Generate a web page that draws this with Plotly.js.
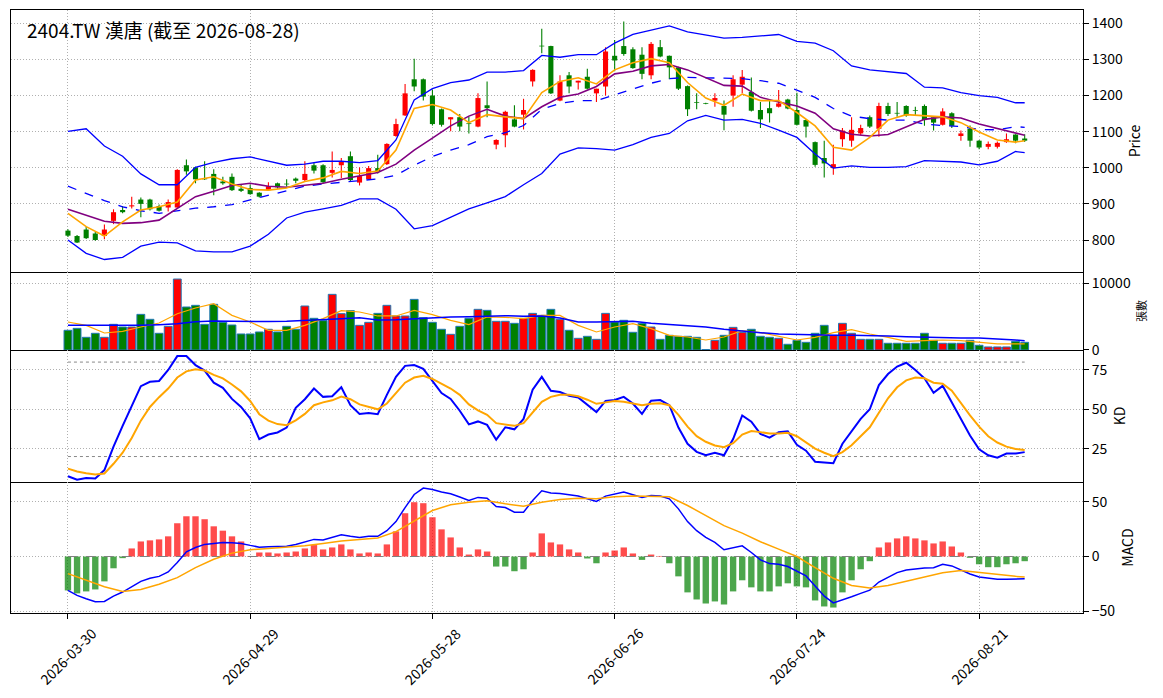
<!DOCTYPE html>
<html>
<head>
<meta charset="utf-8">
<script src="https://cdn.plot.ly/plotly-3.0.1.min.js"></script>
<style>
  body { margin: 0; background: #fff; }
  #chart { width: 1163px; height: 698px; }
</style>
</head>
<body>
<div id="chart"></div>
<script>
// ---- data (index = trading day, 0 = 2026-03-30) ----
const opens = [826,811,829,818,811,853,883,893,912,912, 894,890,890,1007,1001,971,983,962,975,942,
  944,931,938,957,955,970,966,1007,1007,986, 1007,1032,959,968,999,1010,1088,1145,1245,1245,
  1200,1162,1134,1140,1122,1114,1173,1064,1090,1134, 1147,1239,1338,1337,1186,1256,1236,1252,1206,1225,
  1310,1337,1328,1313,1256,1334,1310,1278,1226,1181, 1178,1186,1171,1200,1230,1210,1160,1165,1169,1189,
  1160,1132,1071,1027,999,1079,1075,1095,1140,1108, 1171,1151,1171,1160,1171,1140,1119,1151,1088,1108,
  1075,1058,1058,1071,1092,1081];
const highs = [830,814,837,822,843,885,894,920,918,914, 898,912,996,1023,1003,1018,996,975,984,953,
  953,932,960,959,968,973,1018,1014,1010,1045, 1027,1045,1001,1005,1036,1068,1136,1232,1302,1247,
  1217,1164,1140,1149,1141,1206,1239,1079,1158,1173, 1191,1273,1385,1338,1256,1265,1241,1274,1219,1334,
  1354,1405,1334,1334,1348,1354,1311,1280,1228,1206, 1180,1206,1186,1256,1271,1250,1182,1189,1215,1191,
  1208,1134,1073,1075,1064,1110,1140,1119,1145,1180, 1180,1182,1173,1169,1175,1141,1165,1154,1103,1117,
  1077,1073,1073,1095,1093,1093];
const lows = [808,792,803,798,802,844,874,887,863,882, 879,879,889,981,957,966,924,953,936,933,
  925,918,936,942,948,957,962,984,958,973, 972,962,951,966,984,1008,1086,1143,1212,1186,
  1117,1114,1101,1101,1095,1112,1140,1051,1057,1112, 1106,1225,1317,1204,1184,1206,1217,1217,1182,1200,
  1267,1310,1274,1245,1245,1306,1245,1215,1143,1162, 1176,1169,1104,1169,1206,1156,1110,1125,1167,1162,
  1117,1084,1003,973,981,1058,1058,1090,1110,1086, 1143,1141,1141,1145,1116,1103,1117,1110,1075,1058,
  1051,1051,1053,1069,1068,1071];
const closes = [812,793,805,800,829,877,877,896,900,885, 881,905,994,990,968,968,942,957,938,936,
  927,920,949,946,954,964,983,992,960,994, 1018,966,977,999,990,1066,1121,1206,1225,1197,
  1121,1119,1140,1114,1121,1193,1165,1077,1155,1114, 1160,1271,1336,1206,1239,1225,1241,1219,1219,1322,
  1297,1315,1276,1260,1343,1308,1278,1219,1162,1180, 1177,1193,1147,1245,1252,1158,1134,1151,1178,1164,
  1119,1114,1008,1012,1010,1103,1105,1110,1114,1171, 1149,1150,1145,1158,1132,1125,1156,1116,1095,1075,
  1056,1066,1069,1079,1075,1075];
const volumes = [2940,3230,1890,2490,1890,3830,3430,3430,5320,4580, 2490,3530,10600,6420,6670,3830,6820,4130,3730,2390,
  2390,2690,3090,2690,3530,3090,6570,4730,4380,8310, 5420,5870,3680,4130,5470,6670,5080,5080,7560,4830,
  4130,3090,2340,3530,4730,6070,5920,4280,4280,3980, 4730,5470,5170,6070,4580,2940,1740,2040,1590,5470,
  4180,4430,2640,3980,3430,1590,2190,2040,2040,1890, 60,1440,2190,3380,2640,3090,2040,1890,1740,850,
  1440,1140,2490,3680,2190,3980,2490,1590,1590,1590, 1000,1000,1000,1000,2490,1440,1000,1000,1000,1440,
  700,450,450,450,1290,1140];

// indicator lines, sampled every second day (0,2,...,104) plus the last day 105
const maFast = [874,837,811,850,883,892,905,966,975,955, 940,938,944,962,972,990,984,991,1049,1164,
  1175,1160,1125,1147,1141,1136,1208,1239,1249,1232, 1271,1291,1302,1291,1236,1193,1173,1204,1186,1186,
  1153,1116,1057,1049,1084,1132,1147,1145,1141,1125, 1099,1077,1071,1075];
const maSlow = [885,868,852,846,848,855,887,920,935,951, 957,949,946,951,957,968,977,987,1010,1049,
  1082,1116,1143,1162,1143,1136,1169,1195,1204,1225, 1260,1267,1282,1286,1271,1250,1228,1226,1195,1182,
  1171,1151,1108,1093,1088,1092,1114,1134,1141,1138, 1121,1108,1095,1090];
const bbUpper = [1101,1108,1060,1032,983,953,953,1001,1015,1025, 1030,1019,1007,1010,1018,1018,1014,1020,1077,1188,
  1219,1236,1243,1265,1265,1269,1311,1306,1313,1313, 1345,1369,1382,1393,1376,1367,1359,1361,1365,1369,
  1350,1345,1324,1282,1271,1267,1261,1223,1221,1208, 1200,1195,1180,1180];
const bbMid = [949,929,909,892,881,874,881,888,892,898, 911,924,938,949,955,960,966,969,979,1007,
  1031,1049,1064,1086,1097,1117,1162,1178,1186,1186, 1202,1219,1234,1247,1250,1249,1247,1247,1241,1234,
  1215,1195,1164,1143,1136,1132,1132,1121,1117,1114, 1106,1105,1114,1112];
const bbLower = [800,763,746,752,783,794,792,770,767,767, 783,816,861,877,886,896,914,914,885,831,
  840,863,886,903,920,953,984,1038,1055,1053, 1049,1064,1084,1095,1130,1145,1132,1134,1123,1104,
  1084,1038,999,1005,1001,1001,1003,1020,1018,1016, 1008,1018,1045,1042];
const volMaFast = [4180,3680,2540,2790,3430,4030,5420,6270,6920,5170, 4180,2940,2940,3680,4680,5870,5670,5080,5080,5920,
  5270,4430,3780,4930,4880,4680,5170,5170,3680,2690, 3430,3930,3180,2190,1940,1490,1940,2890,2590,2090,
  1490,1890,2590,3040,2390,1890,1290,1390,1490,1390, 1100,900,900,900];
const volMaSlow = [3680,3680,3580,3630,3680,3780,3930,4230,4330,4280, 4230,4250,4280,4380,4480,4680,4830,4480,4530,4680,
  4880,4930,4980,5050,5120,5030,5080,4780,4180,4180, 4280,4280,3980,3780,3580,3430,3090,2790,2590,2390,
  2290,2190,2190,2190,2190,2090,1990,1890,1890,1790, 1790,1690,1490,1390];
const dea = [-15.7,-21.5,-27.7,-32.0,-30.2,-25.5,-19.4,-10.2,-2.5,3.1, 6.2,7.4,8.3,9.8,12.0,14.2,15.7,16.9,22.8,32.9,
  42.2,47.4,49.8,51.1,48.3,46.2,49.8,52.3,53.5,52.9, 54.8,55.4,55.4,54.8,46.8,37.5,28.3,21.5,13.5,6.8,
  0,-10.2,-20.0,-26.5,-28.9,-26.5,-22.8,-18.5,-14.8,-12.9, -14.8,-16.9,-18.2,-18.8];

// daily oscillators
const kLine = [7.5,5.3,6.4,6.1,11.4,26.3,39.5,52.6,64.7,67.5, 68.0,75.0,83.8,83.8,78.1,74.6,66.9,63.6,56.6,51.5,
  44.3,31.1,34.0,35.3,38.4,50.9,56.4,63.2,57.9,58.3, 64.0,52.6,47.1,47.6,46.9,59.2,70.6,77.6,78.1,75.7,
  68.0,60.3,56.6,49.1,40.4,42.3,40.1,30.7,38.6,37.3, 43.9,62.5,70.6,61.8,61.0,58.6,57.5,52.6,48.2,55.3,
  55.9,57.9,53.7,47.1,55.5,55.9,52.6,38.4,28.1,23.0, 20.8,22.4,20.8,31.1,46.1,42.1,34.4,32.0,35.5,36.0,
  27.4,23.7,16.7,16.2,15.8,28.1,36.2,43.9,50.0,65.4, 72.4,77.2,79.6,75.0,69.7,60.5,64.9,54.4,43.9,33.3,
  24.6,20.8,19.3,21.9,21.9,22.8];
const dLine = [12.3,10.5,9.4,8.6,9.2,15.4,22.4,31.8,42.8,51.5, 57.7,63.2,70.2,74.1,75.4,74.6,71.9,69.7,65.8,61.4,
  55.3,46.9,42.8,40.6,39.9,43.0,47.1,52.6,54.4,55.7, 58.1,56.4,53.1,51.3,50.0,53.7,60.1,66.9,70.2,71.3,
  69.3,66.2,63.2,59.2,53.1,49.3,46.5,41.2,40.4,39.5, 41.2,47.8,54.8,57.9,59.2,59.2,58.3,56.1,53.5,54.4,
  55.3,54.8,53.5,52.6,53.5,53.9,52.6,46.5,39.0,32.9, 29.4,27.0,25.9,28.5,34.0,36.2,35.5,34.6,34.6,35.1,
  32.9,28.9,25.0,22.4,20.2,22.8,27.2,32.9,38.6,47.8, 57.0,64.0,68.4,70.2,69.7,66.9,66.2,61.8,53.7,46.1,
  39.0,32.9,28.9,26.3,24.8,24.1];
const dif = [-31.1,-35.7,-38.8,-41.5,-41.2,-36.3,-32.6,-27.7,-22.8,-20.0, -18.2,-14.2,-5.5,4.3,8.3,11.1,11.7,12.9,12.6,12.0,
  10.2,8.6,8.9,9.2,9.5,11.1,13.5,15.7,15.1,17.2, 20.0,18.5,17.5,18.5,18.5,23.7,32.0,44.9,56.9,62.8,
  61.5,59.1,57.5,54.5,51.4,54.2,53.5,45.8,44.9,40.6, 40.6,51.4,60.3,58.2,57.8,56.6,55.4,52.9,50.5,55.4,
  57.5,59.1,56.6,54.2,56.0,55.4,52.9,43.7,32.0,23.7, 17.5,12.9,6.2,8.0,9.8,3.7,-3.1,-6.5,-7.1,-9.2,
  -13.2,-17.8,-27.1,-36.3,-42.5,-40.0,-36.9,-33.8,-30.8,-23.4, -18.8,-14.8,-12.3,-11.1,-10.5,-10.2,-7.1,-8.6,-12.3,-16.0,
  -18.8,-20.0,-20.9,-20.9,-20.9,-20.3];
const macdHist = [-31.1,-33.8,-32.0,-30.2,-22.8,-10.8,-1.5,7.4,13.8,14.8, 15.7,18.5,30.5,36.9,36.9,34.2,27.7,23.7,18.5,13.8,
  0.5,3.7,3.7,2.8,3.7,4.6,7.4,10.5,6.5,8.3, 11.1,6.5,2.8,3.7,2.8,11.1,23.1,39.7,49.8,48.9,
  36.0,24.9,17.5,8.3,1.8,6.5,4.6,-9.2,-9.2,-13.5, -11.7,3.7,21.2,12.9,11.1,6.5,3.7,-1.8,-6.2,3.7,
  5.5,8.3,2.8,-3.1,1.8,0.5,-6.2,-18.2,-32.9,-39.4, -43.1,-41.2,-44.0,-32.0,-21.8,-28.3,-32.0,-32.0,-27.4,-24.6,
  -27.4,-28.3,-40.3,-45.8,-46.8,-32.9,-21.8,-11.7,-4.3,8.3, 12.9,16.6,18.5,16.6,14.8,12.0,13.8,9.2,3.7,-1.2,
  -7.1,-9.8,-9.8,-7.1,-6.2,-4.3];

const tickIdx = [0, 20, 40, 60, 80, 100];
const tickLabels = ['2026-03-30','2026-04-29','2026-05-28','2026-06-26','2026-07-24','2026-08-21'];
const kdLevels = [80, 20];
const titleText = '2404.TW 漢唐 (截至 2026-08-28)';

// ---- build traces ----
const N = closes.length;
const idx = closes.map((_, i) => i);
const lineIdx = [];
for (let i = 0; i < N - 1; i += 2) lineIdx.push(i);
lineIdx.push(N - 1);

const isUp = closes.map((c, i) => c >= opens[i]);
const candleCol = isUp.map(u => u ? '#ff0000' : '#008000');
const histCol = macdHist.map(v => v >= 0 ? 'rgba(255,0,0,0.7)' : 'rgba(0,128,0,0.7)');

function line(x, y, color, width, xa, ya, dash) {
  return { type: 'scatter', mode: 'lines', x: x, y: y, xaxis: xa, yaxis: ya,
           line: { color: color, width: width, dash: dash || 'solid' }, hoverinfo: 'skip' };
}

const data = [
  // candles: wick then body
  { type: 'bar', x: idx, y: highs.map((h, i) => h - lows[i]), base: lows, width: 0.12,
    marker: { color: candleCol, line: { width: 0 } }, xaxis: 'x', yaxis: 'y', hoverinfo: 'skip' },
  { type: 'bar', x: idx, y: closes.map((c, i) => Math.max(Math.abs(c - opens[i]), 2)),
    base: closes.map((c, i) => Math.min(c, opens[i])), width: 0.56,
    marker: { color: candleCol, line: { width: 0 } }, xaxis: 'x', yaxis: 'y' },
  line(lineIdx, bbUpper, '#0000ff', 1.3, 'x', 'y'),
  line(lineIdx, bbLower, '#0000ff', 1.3, 'x', 'y'),
  line(lineIdx, bbMid, '#0000ff', 1.3, 'x', 'y', 'dash'),
  line(lineIdx, maSlow, '#800080', 1.6, 'x', 'y'),
  line(lineIdx, maFast, '#ffa500', 1.6, 'x', 'y'),

  // volume
  { type: 'bar', x: idx, y: volumes, width: 0.86,
    marker: { color: candleCol, line: { color: '#1f77b4', width: 1 } }, xaxis: 'x2', yaxis: 'y2' },
  line(lineIdx, volMaFast, '#ffa500', 1.2, 'x2', 'y2'),
  line(lineIdx, volMaSlow, '#0000ff', 1.5, 'x2', 'y2'),

  // KD
  line([idx[0], idx[N - 1]], [kdLevels[0], kdLevels[0]], '#888888', 1, 'x3', 'y3', 'dot'),
  line([idx[0], idx[N - 1]], [kdLevels[1], kdLevels[1]], '#888888', 1, 'x3', 'y3', 'dot'),
  line(idx, kLine, '#0000ff', 2, 'x3', 'y3'),
  line(idx, dLine, '#ffa500', 2, 'x3', 'y3'),

  // MACD
  { type: 'bar', x: idx, y: macdHist, width: 0.7,
    marker: { color: histCol, line: { width: 0 } }, xaxis: 'x4', yaxis: 'y4' },
  line([idx[0], idx[N - 1]], [0, 0], '#808080', 1.2, 'x4', 'y4', 'dash'),
  line(idx, dif, '#0000ff', 1.5, 'x4', 'y4'),
  line(lineIdx, dea, '#ffa500', 1.5, 'x4', 'y4')
];

// ---- layout ----
const FONT = '"Noto Sans CJK TC", "Noto Sans", "DejaVu Sans", sans-serif';
const xRange = [-6.25, 111.4];
const gridStyle = { showgrid: true, gridcolor: '#b0b0b0', griddash: '1px,2px', gridwidth: 1 };
function xAxis(anchor, top, last) {
  return Object.assign({
    anchor: anchor, range: xRange, tickvals: tickIdx, showticklabels: false,
    zeroline: false, showline: true, mirror: top ? true : false, linecolor: '#000', linewidth: 1,
    ticks: last ? 'outside' : '', ticklen: 5, tickcolor: '#000'
  }, gridStyle);
}
function yAxis(anchor, domain, range, tickvals, title, titleSize) {
  return Object.assign({
    anchor: anchor, domain: domain, range: range, tickvals: tickvals, side: 'right',
    ticks: 'outside', ticklen: 5, tickcolor: '#000', zeroline: false, tickformat: 'd',
    showline: true, mirror: true, linecolor: '#000', linewidth: 1,
    tickfont: { size: 14, color: '#000' },
    title: { text: title, font: { size: titleSize, color: '#000' }, standoff: 8 }
  }, gridStyle);
}

const annotations = tickIdx.map((t, k) => ({
  xref: 'x4', yref: 'paper', x: t, y: -0.0713, text: tickLabels[k],
  showarrow: false, textangle: -45, xanchor: 'center', yanchor: 'middle',
  font: { size: 14, color: '#000' }
}));

const layout = {
  width: 1163, height: 698,
  margin: { l: 11, r: 80, t: 10, b: 85 },
  paper_bgcolor: '#fff', plot_bgcolor: '#fff',
  font: { family: FONT, size: 14, color: '#000' },
  showlegend: false,
  barmode: 'overlay',
  title: { text: titleText, xref: 'container', yref: 'container', x: 27 / 1163, y: 1 - 31 / 698,
           xanchor: 'left', yanchor: 'middle', font: { size: 19, color: '#000' } },
  xaxis: xAxis('y', true),
  xaxis2: xAxis('y2'),
  xaxis3: xAxis('y3'),
  xaxis4: xAxis('y4', false, true),
  yaxis: yAxis('x', [0.5655, 1], [711.4, 1436.8], [800, 900, 1000, 1100, 1200, 1300, 1400], 'Price', 14),
  yaxis2: yAxis('x2', [0.4362, 0.5655], [0, 11650], [0, 10000], '張數', 11),
  yaxis3: yAxis('x3', [0.2172, 0.4362], [3.8, 87.7], [25, 50, 75], 'KD', 14),
  yaxis4: yAxis('x4', [0, 0.2172], [-51.8, 68.3], [-50, 0, 50], 'MACD', 14),
  annotations: annotations
};

Plotly.newPlot('chart', data, layout, { staticPlot: true, displayModeBar: false });
</script>
</body>
</html>
